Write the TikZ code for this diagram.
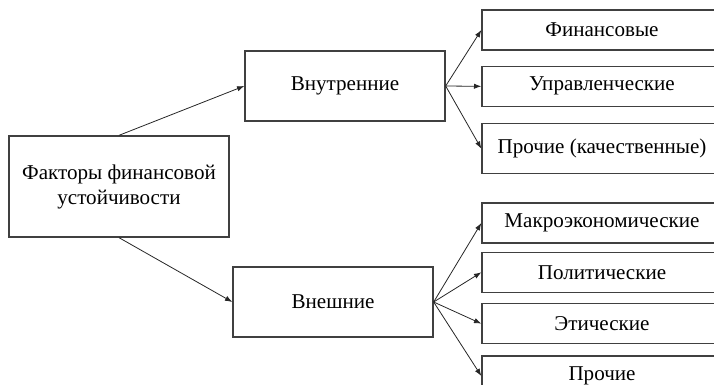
\documentclass[tikz,border=0pt]{standalone}
\usepackage{fontspec}
\setmainfont{Liberation Serif}
\usetikzlibrary{arrows.meta,positioning}

\begin{document}
\begin{tikzpicture}[x=0.75pt, y=-0.75pt, >={Latex[length=5.5pt,width=4pt]},
    factor/.style={draw=black!75, line width=1pt, inner sep=0pt, align=center,
        font=\fontsize{15.8}{18.75}\selectfont},
    kind/.style={factor, minimum width=150pt, minimum height=52.5pt},
    item/.style={factor, minimum width=180pt, minimum height=30pt},
    link/.style={->, color=black!85, line width=0.6pt}]
    \path [clip, use as bounding box] (0,0) rectangle (714,385);

    % Nodes {main, inner, outer, items}
    \node [factor, minimum width=165pt, minimum height=75.75pt] (main) at (119,186.5) {Факторы финансовой\\устойчивости};
    \node [kind]                        (inner) at (345,86)   {Внутренние};
    \node [kind]                        (outer) at (333,302)  {Внешние};
    \node [item]                        (fin)   at (602,30)   {Финансовые};
    \node [item]                        (mgmt)  [below=11.25pt of fin]   {Управленческие};
    \node [item, minimum height=37.5pt] (qual)  [below=12pt of mgmt]     {Прочие (качественные)};
    \node [item]                        (macro) [below=21pt of qual]     {Макроэкономические};
    \node [item]                        (polit) [below=6pt of macro]     {Политические};
    \node [item]                        (ethic) [below=7.5pt of polit]   {Этические};
    \node [item]                        (other) [below=8.25pt of ethic]  {Прочие};

    % Paths
    \path [link] (main.north) edge (inner.west);
    \path [link] (main.south) edge (outer.west);
    \path [link] (inner.east) edge (fin.west);
    \path [link] (inner.east) edge (mgmt.west);
    \path [link] (inner.east) edge (qual.west);
    \path [link] (outer.east) edge (macro.west);
    \path [link] (outer.east) edge (polit.west);
    \path [link] (outer.east) edge (ethic.west);
    \path [link] (outer.east) edge (other.west);

\end{tikzpicture}
\end{document}
